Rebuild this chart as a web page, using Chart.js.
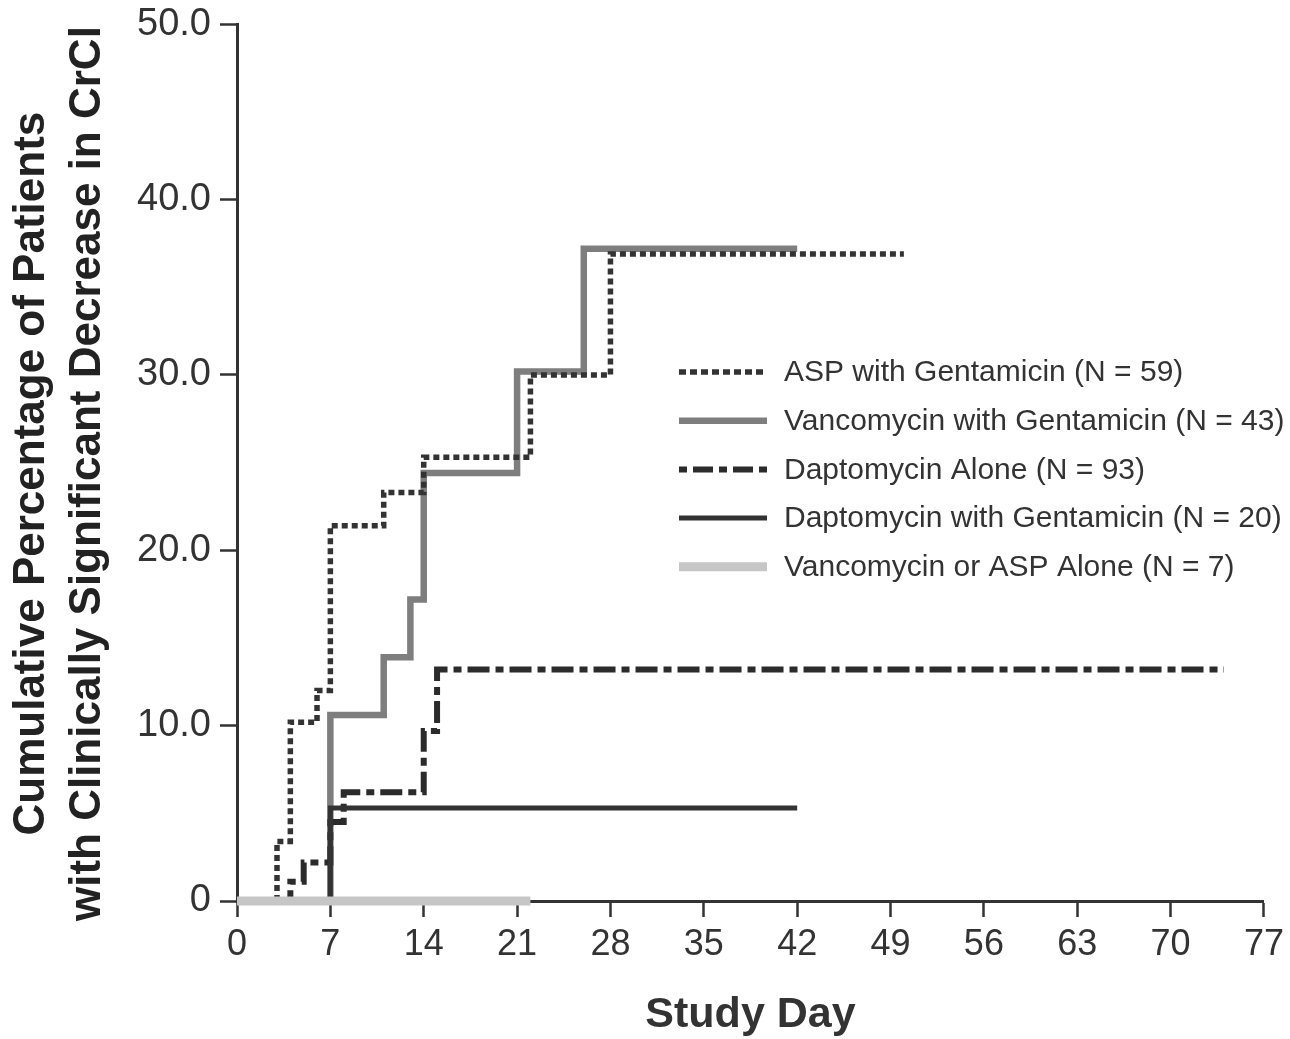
<!DOCTYPE html>
<html>
<head>
<meta charset="utf-8">
<script src="https://cdn.jsdelivr.net/npm/chart.js@4.4.1/dist/chart.umd.min.js"></script>
<style>
  html, body { margin: 0; padding: 0; background: #fff; }
  #wrap { width: 1290px; height: 1039px; }
</style>
</head>
<body>
<div id="wrap"><canvas id="crclChart"></canvas></div>
<script>
// Cumulative % of patients with clinically significant CrCl decrease, by study day

const dayTicks = [0, 7, 14, 21, 28, 35, 42, 49, 56, 63, 70, 77];
const pctTicks = [0, 10, 20, 30, 40, 50];

const aspGentDays = [0, 3, 4, 6, 7, 11, 14, 22, 28, 50];
const aspGentPct  = [0, 3.4, 10.2, 12.0, 21.4, 23.3, 25.3, 30.0, 36.9, 36.9];

const vancoGentDays = [7, 7, 11, 13, 14, 21, 26, 42];
const vancoGentPct  = [0, 10.6, 13.9, 17.2, 24.4, 30.2, 37.2, 37.2];

const daptoDays = [0, 4, 5, 7, 8, 14, 15, 74];
const daptoPct  = [0, 1.1, 2.2, 4.5, 6.2, 9.7, 13.2, 13.2];

const daptoGentDays = [7, 7, 42];
const daptoGentPct  = [0, 5.3, 5.3];

const vancoAspDays = [0, 22];
const vancoAspPct  = [0, 0];

const yTitleLines = ['Cumulative Percentage of Patients', 'with Clinically Significant Decrease in CrCl'];

const FONT = '"Liberation Sans", Arial, Helvetica, sans-serif';

function toPoints(days, pct) {
    return days.map((d, i) => ({ x: d, y: pct[i] }));
}

// legend drawn inside the plot, right of the curves
const legendBox = {
    id: 'legendBox',
    afterDraw(chart) {
        const ctx = chart.ctx;
        ctx.save();
        ctx.font = '30px ' + FONT;
        ctx.textBaseline = 'middle';
        chart.data.datasets.forEach((ds, i) => {
            const y = 372 + i * 48.7;
            ctx.beginPath();
            ctx.lineWidth = ds.borderWidth;
            ctx.strokeStyle = ds.borderColor;
            ctx.lineCap = 'butt';
            ctx.setLineDash(ds.legendDash || ds.borderDash || []);
            ctx.moveTo(679, y);
            ctx.lineTo(767, y);
            ctx.stroke();
            ctx.setLineDash([]);
            ctx.fillStyle = '#333';
            ctx.fillText(ds.label, 784, y + 1);
        });
        ctx.restore();
    }
};

// two-line rotated y title, centred a bit below the plot centre like the original
const yTitle = {
    id: 'yTitle',
    afterDraw(chart) {
        const ctx = chart.ctx;
        const area = chart.chartArea;
        const cy = (area.top + area.bottom) / 2 + 11;
        ctx.save();
        ctx.fillStyle = '#222';
        ctx.font = 'bold 44px ' + FONT;
        ctx.textAlign = 'center';
        ctx.textBaseline = 'middle';
        yTitleLines.forEach((t, i) => {
            ctx.save();
            ctx.translate(32 + i * 56, cy);
            ctx.rotate(-Math.PI / 2);
            ctx.fillText(t, 0, 0);
            ctx.restore();
        });
        ctx.restore();
    }
};

const common = {
    stepped: true,
    fill: false,
    pointRadius: 0,
    borderCapStyle: 'butt',
    borderJoinStyle: 'miter',
    clip: false
};

const ctx = document.getElementById('crclChart').getContext('2d');
new Chart(ctx, {
    type: 'line',
    data: {
        datasets: [
            {
                ...common,
                label: 'ASP with Gentamicin (N = 59)',
                data: toPoints(aspGentDays, aspGentPct),
                borderColor: '#333333',
                borderWidth: 5.5,
                borderDash: [6, 4],
                legendDash: [7, 4],
                order: 3
            },
            {
                ...common,
                label: 'Vancomycin with Gentamicin (N = 43)',
                data: toPoints(vancoGentDays, vancoGentPct),
                borderColor: '#7e7e7e',
                borderWidth: 6.5,
                order: 4
            },
            {
                ...common,
                label: 'Daptomycin Alone (N = 93)',
                data: toPoints(daptoDays, daptoPct),
                borderColor: '#2b2b2b',
                borderWidth: 6,
                borderDash: [22, 6, 8, 6],
                legendDash: [8, 6, 20, 6],
                order: 2
            },
            {
                ...common,
                label: 'Daptomycin with Gentamicin (N = 20)',
                data: toPoints(daptoGentDays, daptoGentPct),
                borderColor: '#333333',
                borderWidth: 5,
                order: 1
            },
            {
                ...common,
                label: 'Vancomycin or ASP Alone (N = 7)',
                data: toPoints(vancoAspDays, vancoAspPct),
                borderColor: '#c6c6c6',
                borderWidth: 9,
                order: 0
            }
        ]
    },
    options: {
        responsive: true,
        maintainAspectRatio: false,
        animation: false,
        layout: { padding: { top: 24, right: 25, bottom: 0, left: 0 } },
        plugins: {
            legend: { display: false },
            tooltip: { enabled: false }
        },
        scales: {
            x: {
                type: 'linear',
                min: 0,
                max: 77,
                afterBuildTicks: (scale) => { scale.ticks = dayTicks.map(v => ({ value: v })); },
                afterFit: (scale) => { scale.height = 138; },
                ticks: {
                    color: '#333',
                    font: { family: FONT, size: 36 },
                    padding: 6,
                    maxRotation: 0
                },
                grid: {
                    display: true,
                    drawOnChartArea: false,
                    drawTicks: true,
                    tickLength: 16,
                    tickWidth: 2.5,
                    tickColor: '#333'
                },
                border: { display: true, color: '#333', width: 3 },
                title: {
                    display: true,
                    text: 'Study Day',
                    color: '#333',
                    font: { family: FONT, size: 43, weight: 'bold', lineHeight: 1 },
                    padding: { top: 0, bottom: 2 }
                }
            },
            y: {
                min: 0,
                max: 50,
                afterBuildTicks: (scale) => { scale.ticks = pctTicks.map(v => ({ value: v })); },
                afterFit: (scale) => { scale.width = 237; },
                ticks: {
                    color: '#333',
                    font: { family: FONT, size: 38, lineHeight: 0.8 },
                    padding: 9,
                    callback: (v) => v === 0 ? '0' : v.toFixed(1)
                },
                grid: {
                    display: true,
                    drawOnChartArea: false,
                    drawTicks: true,
                    tickLength: 17,
                    tickWidth: 2.5,
                    tickColor: '#333'
                },
                border: { display: true, color: '#333', width: 3 },
                title: { display: false }
            }
        }
    },
    plugins: [legendBox, yTitle]
});
</script>
</body>
</html>
